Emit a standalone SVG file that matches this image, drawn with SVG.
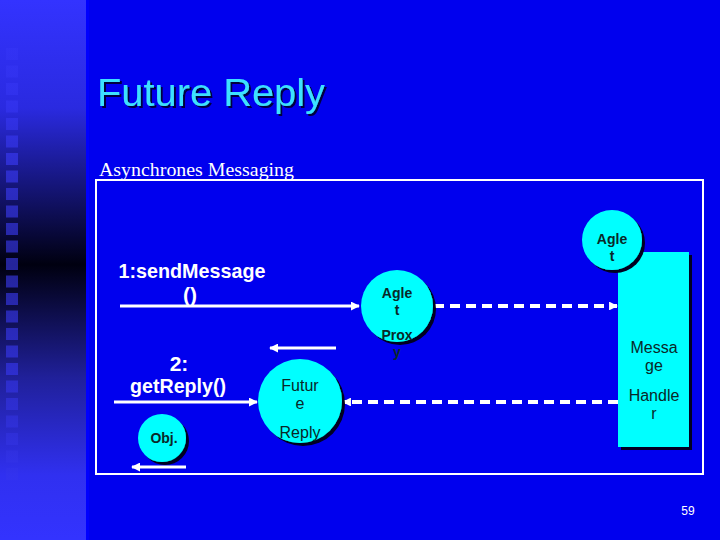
<svg xmlns="http://www.w3.org/2000/svg" width="720" height="540" viewBox="0 0 720 540">
<defs>
<linearGradient id="strip" x1="0" y1="0" x2="0" y2="1">
<stop offset="0" stop-color="#3333ff"/>
<stop offset="0.2" stop-color="#2a2ae0"/>
<stop offset="0.49" stop-color="#000010"/>
<stop offset="0.7" stop-color="#20209a"/>
<stop offset="0.88" stop-color="#3030f0"/>
<stop offset="1" stop-color="#3333ff"/>
</linearGradient>
<linearGradient id="sq" gradientUnits="userSpaceOnUse" x1="0" y1="0" x2="0" y2="540">
<stop offset="0" stop-color="#3a3aff"/>
<stop offset="0.2" stop-color="#3434f0"/>
<stop offset="0.49" stop-color="#24249a"/>
<stop offset="0.7" stop-color="#2e2ed0"/>
<stop offset="1" stop-color="#3a3aff"/>
</linearGradient>
<marker id="ah" viewBox="0 0 10 10" refX="9" refY="5" markerWidth="3" markerHeight="3" orient="auto" markerUnits="strokeWidth">
<path d="M0,0 L10,5 L0,10 z" fill="#ffffff"/>
</marker>
<marker id="ahs" viewBox="0 0 10 10" refX="9" refY="5" markerWidth="2.2" markerHeight="2.2" orient="auto" markerUnits="strokeWidth">
<path d="M0,0 L10,5 L0,10 z" fill="#ffffff"/>
</marker>
<filter id="sh" x="-20%" y="-20%" width="150%" height="150%">
<feOffset dx="3" dy="3" in="SourceAlpha" result="o"/>
<feFlood flood-color="#000020"/>
<feComposite in2="o" operator="in" result="s"/>
<feMerge><feMergeNode in="s"/><feMergeNode in="SourceGraphic"/></feMerge>
</filter>
<filter id="tsh" x="-5%" y="-20%" width="110%" height="150%">
<feOffset dx="2" dy="2" in="SourceAlpha" result="o"/>
<feFlood flood-color="#000040"/>
<feComposite in2="o" operator="in" result="s"/>
<feMerge><feMergeNode in="s"/><feMergeNode in="SourceGraphic"/></feMerge>
</filter>
</defs>
<style>
.node{fill:#00ffff;filter:url(#sh)}
.nt{font-family:"Liberation Sans",Arial,sans-serif;font-size:14px;font-weight:bold;fill:#0a2828;text-anchor:middle}
.nr{font-family:"Liberation Sans",Arial,sans-serif;font-size:16px;fill:#0a2828;text-anchor:middle}
.lbl{font-family:"Liberation Sans",Arial,sans-serif;font-size:21px;font-weight:bold;fill:#ffffff;text-anchor:middle}
.ln{stroke:#ffffff;stroke-width:3;fill:none}
.dash{stroke:#ffffff;stroke-width:4;fill:none;stroke-dasharray:10 6}
</style>
<rect x="0" y="0" width="720" height="540" fill="#0000ee"/>
<rect x="0" y="0" width="86" height="540" fill="url(#strip)"/>
<rect x="86" y="0" width="3" height="540" fill="#0000ff"/>
<g id="squares" fill="url(#sq)">
<rect x="6" y="48" width="12" height="12" opacity="0.4"/>
<rect x="6" y="65.5" width="12" height="12" opacity="0.5"/>
<rect x="6" y="83" width="12" height="12" opacity="0.6"/>
<rect x="6" y="100.5" width="12" height="12" opacity="0.7"/>
<rect x="6" y="118" width="12" height="12" opacity="0.8"/>
<rect x="6" y="135.5" width="12" height="12" opacity="0.9"/>
<rect x="6" y="153" width="12" height="12"/>
<rect x="6" y="170.5" width="12" height="12"/>
<rect x="6" y="188" width="12" height="12"/>
<rect x="6" y="205.5" width="12" height="12"/>
<rect x="6" y="223" width="12" height="12"/>
<rect x="6" y="240.5" width="12" height="12"/>
<rect x="6" y="258" width="12" height="12"/>
<rect x="6" y="275.5" width="12" height="12"/>
<rect x="6" y="293" width="12" height="12"/>
<rect x="6" y="310.5" width="12" height="12"/>
<rect x="6" y="328" width="12" height="12"/>
<rect x="6" y="345.5" width="12" height="12"/>
<rect x="6" y="363" width="12" height="12"/>
<rect x="6" y="380.5" width="12" height="12" opacity="0.9"/>
<rect x="6" y="398" width="12" height="12" opacity="0.8"/>
<rect x="6" y="415.5" width="12" height="12" opacity="0.7"/>
<rect x="6" y="433" width="12" height="12" opacity="0.6"/>
<rect x="6" y="450.5" width="12" height="12" opacity="0.5"/>
<rect x="6" y="468" width="12" height="12" opacity="0.4"/>
</g>
<text x="97" y="106" font-family="'Liberation Sans',Arial,sans-serif" font-size="39" fill="#3ce0ff" filter="url(#tsh)" textLength="228" lengthAdjust="spacingAndGlyphs">Future Reply</text>
<text x="99" y="176" font-family="'Liberation Serif','Times New Roman',serif" font-size="19.5" fill="#ffffff" textLength="195" lengthAdjust="spacingAndGlyphs">Asynchrones Messaging</text>
<rect x="96" y="180" width="607" height="294" fill="none" stroke="#ffffff" stroke-width="2"/>
<g id="connectors">
<line class="ln" x1="120" y1="306" x2="359" y2="306" marker-end="url(#ah)"/>
<line class="dash" x1="434" y1="306" x2="617" y2="306" marker-end="url(#ahs)"/>
<line class="dash" x1="618" y1="402" x2="343" y2="402" marker-end="url(#ahs)"/>
<line class="ln" x1="114" y1="402" x2="257" y2="402" marker-end="url(#ah)"/>
<line class="ln" x1="336" y1="348" x2="270" y2="348" marker-end="url(#ah)"/>
<line class="ln" stroke-width="2" x1="186" y1="467" x2="132" y2="467" marker-end="url(#ah)"/>
</g>
<g id="labels">
<text class="lbl" x="192" y="278" textLength="147" lengthAdjust="spacingAndGlyphs">1:sendMessage</text>
<text class="lbl" x="190" y="302">()</text>
<text class="lbl" x="179" y="371">2:</text>
<text class="lbl" x="178" y="393" font-size="20" textLength="96" lengthAdjust="spacingAndGlyphs">getReply()</text>
</g>
<g id="agent-proxy">
<circle class="node" cx="397" cy="306" r="36"/>
<text class="nt" x="397" y="298">Agle</text>
<text class="nt" x="397" y="315">t</text>
<text class="nt" x="397" y="340">Prox</text>
<text class="nt" x="397" y="357">y</text>
</g>
<g id="message-handler">
<rect x="618" y="252" width="71" height="195" fill="#00ffff" filter="url(#sh)"/>
<text class="nr" x="654" y="353">Messa</text>
<text class="nr" x="654" y="371">ge</text>
<text class="nr" x="654" y="401">Handle</text>
<text class="nr" x="654" y="419">r</text>
</g>
<g id="agent">
<circle class="node" cx="612" cy="240" r="30"/>
<text class="nt" x="612" y="244">Agle</text>
<text class="nt" x="612" y="261">t</text>
</g>
<g id="future-reply">
<circle class="node" cx="300" cy="401" r="42"/>
<text class="nr" x="300" y="391" font-size="17">Futur</text>
<text class="nr" x="300" y="409" font-size="17">e</text>
<text class="nr" x="300" y="438" font-size="17">Reply</text>
</g>
<g id="obj">
<circle class="node" cx="162" cy="438" r="24"/>
<text class="nt" x="164" y="443" font-size="13">Obj.</text>
</g>
<text x="688" y="515" font-family="'Liberation Sans',Arial,sans-serif" font-size="12" fill="#ffffff" text-anchor="middle">59</text>
</svg>
